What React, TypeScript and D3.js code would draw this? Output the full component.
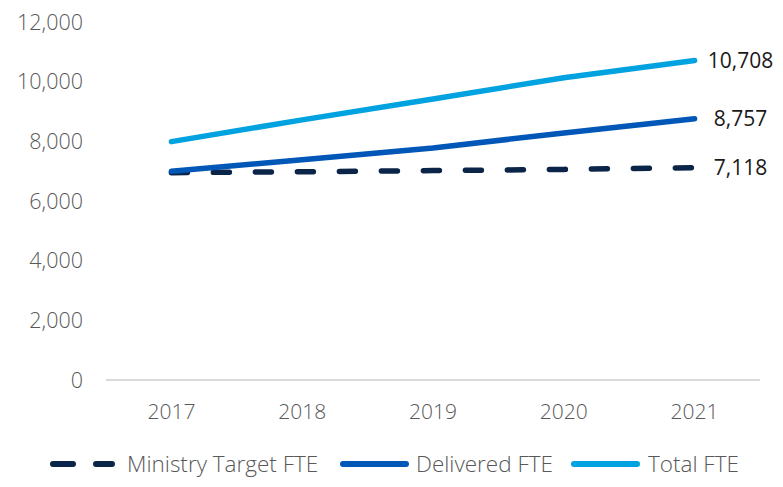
import React from "react";
import * as d3 from "d3";

const years = ["2017", "2018", "2019", "2020", "2021"];
const targetFTE = [6950, 6980, 7020, 7060, 7118];
const deliveredFTE = [7000, 7380, 7780, 8280, 8757];
const totalFTE = [7990, 8720, 9420, 10130, 10708];
const yTicks = [0, 2000, 4000, 6000, 8000, 10000, 12000];

const seriesList = [
  { name: "Ministry Target FTE", values: targetFTE, color: "#0b2548", dash: "16 26" },
  { name: "Delivered FTE", values: deliveredFTE, color: "#0057b8", dash: "" },
  { name: "Total FTE", values: totalFTE, color: "#00a3e0", dash: "" },
];

const W = 783;
const H = 487;
const FONT = "'Open Sans', Lato, sans-serif";

export default function App() {
  const x = d3.scaleBand().domain(years).range([106, 760]);
  const y = d3.scaleLinear().domain([0, 12000]).range([380, 22]);
  const cx = (d: string) => (x(d) as number) + x.bandwidth() / 2;
  const line = d3
    .line<number>()
    .x((_, i) => cx(years[i]))
    .y((v) => y(v));
  const fmt = d3.format(",");
  const legendItems = [
    { x0: 50, x1: 115, tx: 127 },
    { x0: 340, x1: 409, tx: 416 },
    { x0: 571, x1: 640, tx: 648 },
  ];
  return (
    <svg width={W} height={H} style={{ position: "absolute", left: 0, top: 0 }} fontFamily={FONT} fontWeight={300}>
      <rect width={W} height={H} fill="#fff" />
      {yTicks.map((t) => (
        <text key={t} x={83} y={y(t)} dy="0.35em" textAnchor="end" fontSize={21.5} fill="#585858">
          {fmt(t)}
        </text>
      ))}
      <line x1={106} x2={760} y1={y(0)} y2={y(0)} stroke="#d9d9d9" strokeWidth={2} />
      {years.map((yr) => (
        <text key={yr} x={cx(yr)} y={419} textAnchor="middle" fontSize={21} fill="#585858">
          {yr}
        </text>
      ))}
      {seriesList.map((s) => (
        <path
          key={s.name}
          d={line(s.values) || ""}
          fill="none"
          stroke={s.color}
          strokeWidth={5.5}
          strokeLinecap="round"
          strokeDasharray={s.dash || undefined}
        />
      ))}
      {seriesList.map((s) => {
        const v = s.values[s.values.length - 1];
        return (
          <text
            key={s.name + "l"}
            x={cx(years[years.length - 1]) + 46}
            y={y(v)}
            dy="0.35em"
            textAnchor="middle"
            fontSize={21}
            fontWeight={400}
            fill="#1a1a1a"
          >
            {fmt(v)}
          </text>
        );
      })}
      {seriesList.map((s, i) => {
        const L = legendItems[i];
        return (
          <g key={s.name + "g"}>
            <line
              x1={L.x0 + 3}
              x2={L.x1 - 3}
              y1={464}
              y2={464}
              stroke={s.color}
              strokeWidth={6}
              strokeLinecap="round"
              strokeDasharray={s.dash ? "20 23" : undefined}
            />
            <text x={L.tx} y={464} dy="0.35em" fontSize={22.5} fill="#585858">
              {s.name}
            </text>
          </g>
        );
      })}
    </svg>
  );
}
